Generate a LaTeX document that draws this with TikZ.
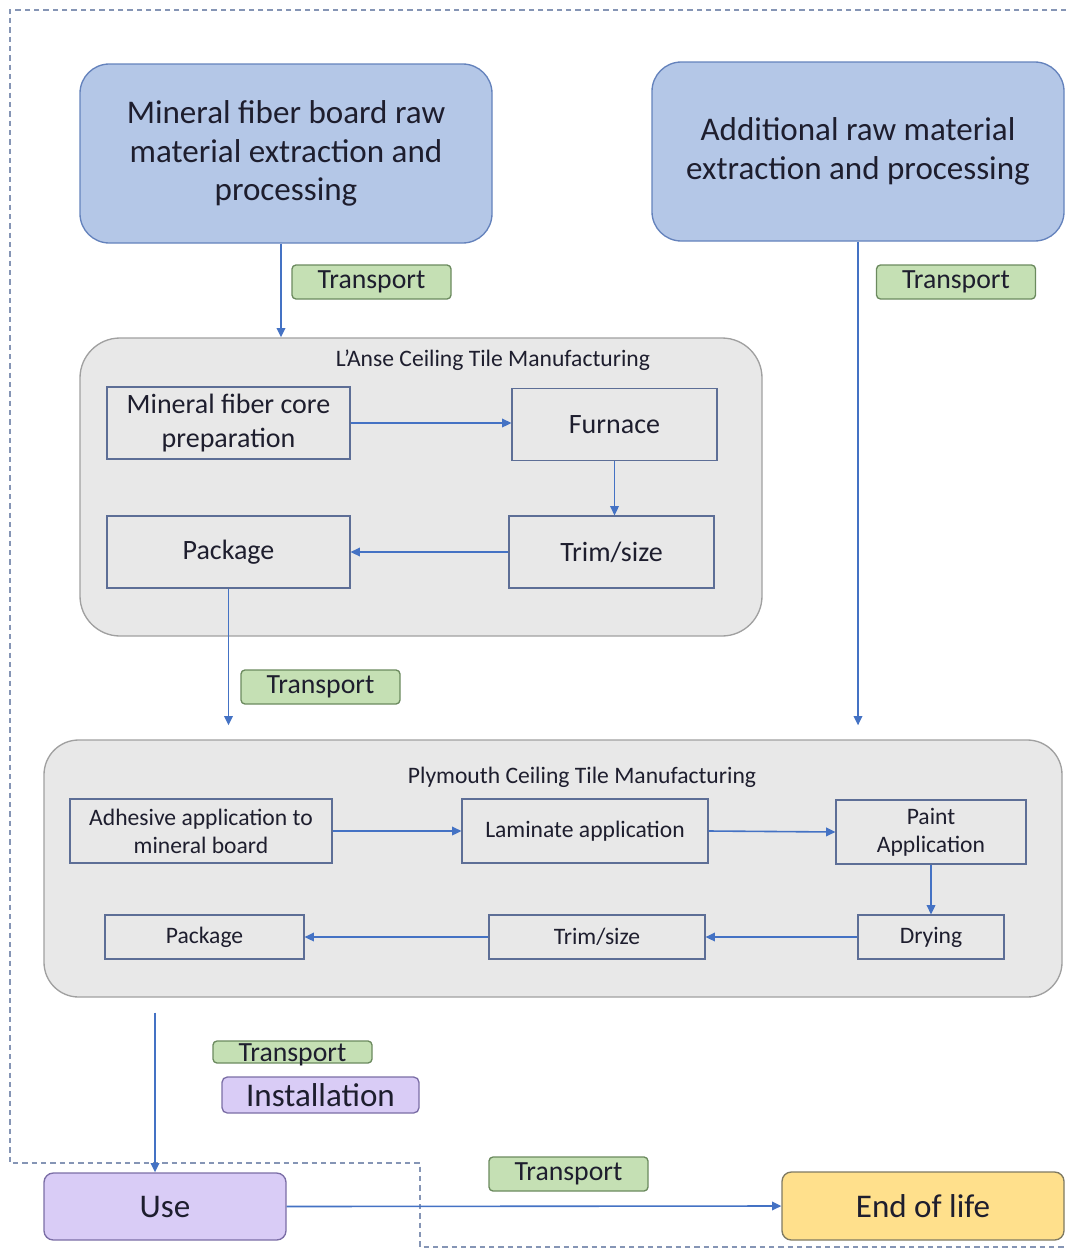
\documentclass[tikz,border=0pt]{standalone}
\usepackage{fontspec}
\setmainfont{Carlito}
\usetikzlibrary{positioning,arrows.meta}
\definecolor{rawblue}{HTML}{B4C7E7}
\definecolor{rawedge}{HTML}{6482BC}
\definecolor{mfggray}{HTML}{E8E8E8}
\definecolor{mfgedge}{HTML}{A0A0A0}
\definecolor{stepedge}{HTML}{5D6E96}
\definecolor{tgreen}{HTML}{C5E0B4}
\definecolor{tgreenedge}{HTML}{6B8A5E}
\definecolor{usepurple}{HTML}{D9CCF6}
\definecolor{usepurpleedge}{HTML}{7B6EA6}
\definecolor{eolyellow}{HTML}{FFE08C}
\definecolor{eoledge}{HTML}{7F7A62}
\definecolor{arrowblue}{HTML}{4472C4}
\definecolor{bounddash}{HTML}{8595B5}
\definecolor{textdark}{HTML}{1E1E2E}

\begin{document}
\begin{tikzpicture}[x=0.75pt,y=-0.75pt,
  >={Triangle[length=7pt,width=6.5pt]},
  flow/.style={->,draw=arrowblue,line width=1.2pt},
  rawbox/.style={draw=rawedge,fill=rawblue,line width=1pt,rounded corners=22pt,
    align=center,text=textdark,font=\fontsize{24.8}{29}\selectfont,
    minimum width=309pt,minimum height=134.25pt},
  mfgbox/.style={draw=mfgedge,fill=mfggray,line width=1pt},
  mfgtitle/.style={text=textdark,font=\fontsize{17.7}{21}\selectfont},
  lansestep/.style={draw=stepedge,fill=mfggray,line width=0.9pt,align=center,
    text=textdark,font=\fontsize{21}{25.5}\selectfont,minimum height=54pt},
  plystep/.style={draw=stepedge,fill=mfggray,line width=0.9pt,align=center,
    text=textdark,font=\fontsize{17.7}{21}\selectfont},
  transport/.style={draw=tgreenedge,fill=tgreen,line width=1pt,rounded corners=3pt,
    text=textdark,font=\fontsize{20.8}{24}\selectfont,
    minimum width=119.25pt,minimum height=25.5pt,inner sep=0pt},
  lifebox/.style={line width=1pt,rounded corners=7pt,text=textdark,
    font=\fontsize{24.8}{29}\selectfont},
  boundary/.style={draw=bounddash,line width=0.8pt,dash pattern=on 4pt off 3pt}]

\useasboundingbox (0,0) rectangle (1066,1249);

\draw[boundary] (1066,10) -- (10,10) -- (10,1163) -- (420,1163) -- (420,1247) -- (1066,1247);

\node[rawbox] (minraw) at (286,153.5) {Mineral fiber board raw\\material extraction and\\processing};
\node[rawbox] (addraw) at (858,151.5) {Additional raw material\\extraction and processing};
\node[transport] (tr1) at (371.5,282) {Transport};
\node[transport] (tr2) at (956,282) {Transport};

\node[mfgbox,rounded corners=30pt,minimum width=511.5pt,minimum height=223.5pt] (lanse) at (421,487) {};
\node[mfgtitle] (lansetitle) at (493,360) {L’Anse Ceiling Tile Manufacturing};
\node[lansestep,minimum width=182.25pt] (core) at (228.5,423) {Mineral fiber core\\preparation};
\node[lansestep,minimum width=153.75pt] (furnace) at (614.5,424.5) {Furnace};
\node[lansestep,minimum width=153.75pt] (trim1) at (611.5,552) {Trim/size};
\node[lansestep,minimum width=182.25pt] (pack1) at (228.5,552) {Package};
\node[transport] (tr3) at (320.5,687) {Transport};

\node[mfgbox,rounded corners=26pt,minimum width=763.5pt,minimum height=192.75pt] (ply) at (553,868.5) {};
\node[mfgtitle] (plytitle) at (582,777) {Plymouth Ceiling Tile Manufacturing};
\node[plystep,minimum width=196.5pt,minimum height=48pt] (adhesive) at (201,831) {Adhesive application to\\mineral board};
\node[plystep,minimum width=184.5pt,minimum height=48pt] (laminate) at (585,831) {Laminate application};
\node[plystep,minimum width=142.5pt,minimum height=48pt] (paint) at (931,832) {Paint\\Application};
\node[plystep,minimum width=109.5pt,minimum height=33pt] (drying) at (931,937) {Drying};
\node[plystep,minimum width=162pt,minimum height=33pt] (trim2) at (597,937) {Trim/size};
\node[plystep,minimum width=149.25pt,minimum height=33pt] (pack2) at (204.5,937) {Package};

\node[transport,minimum height=16.5pt,text height=13.5pt,text depth=0pt] (tr4) at (292.5,1052) {Transport};
\node[lifebox,draw=usepurpleedge,fill=usepurple,rounded corners=4pt,inner sep=0pt,
  minimum width=147.75pt,minimum height=27pt] (install) at (320.5,1095) {Installation};
\node[lifebox,draw=usepurpleedge,fill=usepurple,minimum width=181.5pt,minimum height=50.25pt] (use) at (165,1206.5) {Use};
\node[lifebox,draw=eoledge,fill=eolyellow,minimum width=211.5pt,minimum height=51pt] (eol) at (923,1206) {End of life};
\node[transport] (tr5) at (568.5,1174) {Transport};

\coordinate (minrawout) at ([xshift=-3.75pt]minraw.south);
\coordinate (plyin) at ([yshift=10.5pt]ply.north);
\coordinate (plyout) at ([yshift=-11.25pt]ply.south);
\coordinate (usein) at ([xshift=-7.5pt]use.north);

\draw[flow] (minrawout) -- (minrawout |- lanse.north);
\draw[flow] (core.east) -- (core.east -| furnace.west);
\draw[flow] (furnace.south) -- (furnace.south |- trim1.north);
\draw[flow] (trim1.west) -- (pack1.east);
\draw[flow] (pack1.south) -- (pack1.south |- plyin);
\draw[flow] (addraw.south) -- (addraw.south |- plyin);
\draw[flow] (adhesive.east) -- (laminate.west);
\draw[flow] (laminate.east) -- (paint.west);
\draw[flow] (paint.south) -- (drying.north);
\draw[flow] (drying.west) -- (trim2.east);
\draw[flow] (trim2.west) -- (pack2.east);
\draw[flow] (plyout -| usein) -- (usein);
\draw[flow] (use.east) -- (eol.west);
\end{tikzpicture}
\end{document}
